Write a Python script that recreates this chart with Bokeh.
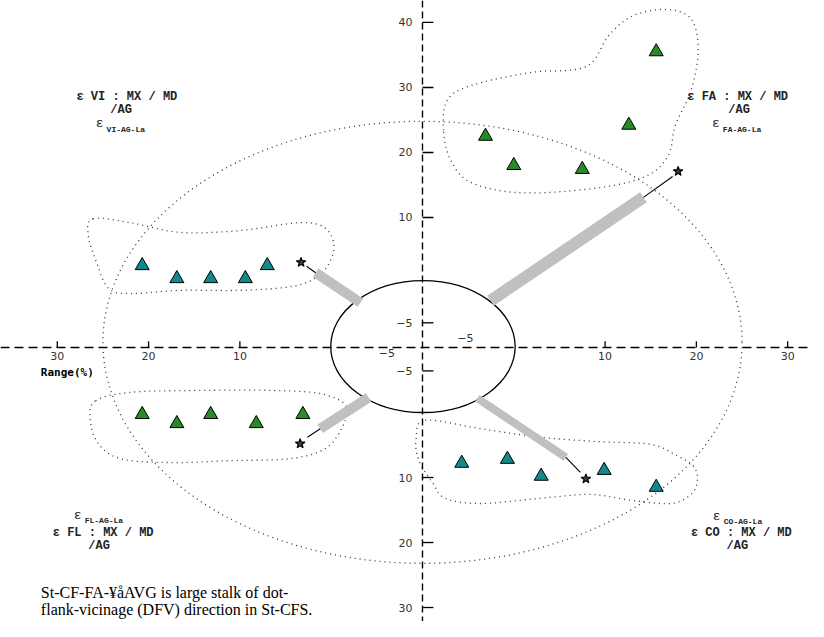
import numpy as np
from bokeh.plotting import figure
from bokeh.models import Span
from bokeh.core.properties import value
from bokeh.embed import file_html
from bokeh.resources import INLINE

# ---------------- data ----------------
# triangle markers in the four quadrants
fa_x = [6.9, 10.0, 17.5, 22.6, 25.6]
fa_y = [32.5, 28.0, 27.4, 34.2, 45.5]
vi_x = [-30.7, -26.9, -23.2, -19.4, -17.0]
vi_y = [12.6, 10.6, 10.6, 10.6, 12.6]
fl_x = [-30.7, -26.9, -23.2, -18.2, -13.1]
fl_y = [-10.3, -11.7, -10.3, -11.7, -10.3]
co_x = [4.3, 9.3, 13.0, 19.9, 25.6]
co_y = [-17.8, -17.2, -19.8, -18.9, -21.5]

# stalks (grey bars), whiskers and stars: FA, VI, FL, CO
stalk_x0 = [7.45, -6.8, -5.9, 6.0]
stalk_y0 = [7.2, 6.9, -7.7, -7.8]
stalk_x1 = [24.2, -11.7, -11.2, 15.7]
stalk_y1 = [23.1, 11.5, -12.5, -16.9]
whisk_x = [27.4, -12.7, -12.6, 17.3]
whisk_y = [26.3, 12.5, -13.8, -19.2]
star_x = [28.0, -13.3, -13.4, 17.9]
star_y = [27.1, 13.1, -14.8, -20.2]

# outline control points of the dotted groups
fa_blob_x = [2.3, 2.7, 5.3, 11.8, 17.9, 20.4, 23.0, 26.6, 29.4, 30.2, 29.4, 27.7, 26.9, 24.4, 18.9, 10.7, 5.3, 3.1]
fa_blob_y = [33.4, 38.0, 40.3, 42.3, 43.2, 48.0, 51.0, 52.0, 50.6, 45.7, 39.5, 34.2, 29.5, 26.3, 24.5, 23.8, 25.4, 28.8]
vi_blob_x = [-36.1, -32.0, -26.5, -19.9, -13.4, -10.6, -9.7, -11.0, -13.9, -19.9, -26.5, -32.0, -34.4, -35.7, -36.6]
vi_blob_y = [19.8, 19.2, 17.7, 18.0, 19.2, 18.3, 15.2, 11.5, 9.5, 8.8, 8.8, 8.3, 9.1, 13.1, 17.2]
fl_blob_x = [-35.8, -32.0, -24.3, -16.6, -11.2, -8.4, -8.7, -10.6, -14.5, -21.0, -27.6, -33.1, -35.6, -36.4]
fl_blob_y = [-8.2, -6.9, -6.6, -6.6, -7.1, -8.9, -12.0, -15.5, -17.1, -17.4, -17.7, -17.1, -14.6, -10.9]
co_blob_x = [0.3, 6.4, 12.9, 19.5, 25.0, 27.8, 29.7, 30.1, 29.4, 27.2, 22.8, 18.4, 12.9, 6.4, 2.5, 1.1, -0.4, -0.7]
co_blob_y = [-11.2, -12.5, -13.8, -14.5, -14.9, -16.6, -18.3, -20.5, -22.6, -24.0, -23.5, -22.6, -23.2, -24.0, -23.2, -20.8, -17.4, -14.0]

# axes ticks (positions are distances from centre, labels from circle edge)
h_tick_pos = [-40, -30, -20, 20, 30, 40]
h_tick_lab = ["30", "20", "10", "10", "20", "30"]
v_tick_pos = [50, 40, 30, 20, 3.8, -3.6, -20, -30, -40]
v_tick_lab = ["40", "30", "20", "10", "−5", "−5", "10", "20", "30"]
inner_lab_x = [-3.9, 4.7]
inner_lab_y = [-0.9, 1.5]
inner_lab = ["−5", "−5"]

# annotations
ann_text = ["ε VI : MX / MD", "/AG", "ε FA : MX / MD", "/AG",
            "ε FL : MX / MD", "/AG", "ε CO : MX / MD", "/AG"]
ann_x = [-37.9, -34.2, 29.0, 33.5, -40.5, -36.6, 29.4, 33.3]
ann_y = [38.5, 36.6, 38.5, 36.6, -28.6, -30.5, -28.6, -30.5]
eps_x = [-35.8, 31.7, -38.2, 31.8]
eps_y = [34.5, 34.5, -25.8, -26.0]
sub_text = ["VI-AG-La", "FA-AG-La", "FL-AG-La", "CO-AG-La"]
sub_x = [-34.6, 32.9, -37.0, 33.0]
sub_y = [33.5, 33.5, -26.6, -26.8]
caption = ["St-CF-FA-¥åAVG is large stalk of dot-",
           "flank-vicinage (DFV) direction in St-CFS."]
cap_x = [-41.8, -41.8]
cap_y = [-37.7, -40.3]

GREEN = "#2a8a2a"
TEAL = "#138a8a"


def smooth_closed(xs, ys, n=16):
    P = np.column_stack([xs, ys]).astype(float)
    m = len(P)
    t = np.linspace(0, 1, n, endpoint=False)[:, None]
    out = []
    for i in range(m):
        p0, p1, p2, p3 = P[(i - 1) % m], P[i], P[(i + 1) % m], P[(i + 2) % m]
        out.append(0.5 * (2 * p1 + (-p0 + p2) * t + (2 * p0 - 5 * p1 + 4 * p2 - p3) * t ** 2
                          + (-p0 + 3 * p1 - 3 * p2 + p3) * t ** 3))
    out = np.vstack(out + [out[0][:1]])
    return out[:, 0], out[:, 1]


p = figure(width=808, height=621, x_range=(-46.22, 42.28), y_range=(-42.15, 53.38),
           output_backend="svg", toolbar_location=None, min_border=0,
           x_axis_location=None, y_axis_location=None)
p.grid.visible = False
p.outline_line_color = None
p.background_fill_color = "white"

# axis lines
p.add_layout(Span(location=0, dimension="width", line_color="black", line_width=1.4, line_dash="9 5"))
p.add_layout(Span(location=0, dimension="height", line_color="black", line_width=1.4, line_dash="7 4"))

# big dotted range ellipse and inner circle
p.ellipse(x=[0], y=[0.8], width=[70], height=[68], fill_color=None,
          line_color="#333333", line_width=1.3, line_dash="1 4")
p.ellipse(x=[0.05], y=[0.15], width=[20.2], height=[20.3], fill_color=None,
          line_color="black", line_width=1.3)

# dotted group outlines
for bx, by in [(fa_blob_x, fa_blob_y), (vi_blob_x, vi_blob_y),
               (fl_blob_x, fl_blob_y), (co_blob_x, co_blob_y)]:
    sx, sy = smooth_closed(bx, by)
    p.line(sx, sy, line_color="#333333", line_width=1.3, line_dash="1 4")

# stalks
p.segment(x0=stalk_x0, y0=stalk_y0, x1=stalk_x1, y1=stalk_y1,
          line_color="#c0c0c0", line_width=[12, 10, 10, 8], line_cap="butt")
p.segment(x0=stalk_x1, y0=stalk_y1, x1=whisk_x, y1=whisk_y, line_color="black", line_width=1.1)
p.scatter(star_x, star_y, marker="star", size=10, fill_color="#444444",
          line_color="black", line_width=1.2)

# triangles
p.scatter(fa_x, fa_y, marker="triangle", size=14, fill_color=GREEN, line_color="black", line_width=1)
p.scatter(fl_x, fl_y, marker="triangle", size=14, fill_color=GREEN, line_color="black", line_width=1)
p.scatter(vi_x, vi_y, marker="triangle", size=14, fill_color=TEAL, line_color="black", line_width=1)
p.scatter(co_x, co_y, marker="triangle", size=14, fill_color=TEAL, line_color="black", line_width=1)

# tick marks
p.segment(x0=h_tick_pos, y0=[0] * len(h_tick_pos), x1=h_tick_pos, y1=[0.95] * len(h_tick_pos),
          line_color="black", line_width=1.3)
p.segment(x0=[0] * len(v_tick_pos), y0=v_tick_pos, x1=[1.2] * len(v_tick_pos), y1=v_tick_pos,
          line_color="black", line_width=1.3)

tick_font = value("DejaVu Sans")
p.text(x=h_tick_pos, y=[0] * len(h_tick_pos), text=h_tick_lab, text_font=tick_font,
       text_font_size="11px", text_color="#333333", text_align="center",
       text_baseline="top", y_offset=4)
p.text(x=[0] * len(v_tick_pos), y=v_tick_pos, text=v_tick_lab, text_font=tick_font,
       text_font_size="11px", text_color="#333333", text_align="right",
       text_baseline="middle", x_offset=-10)
p.text(x=inner_lab_x, y=inner_lab_y, text=inner_lab, text_font=tick_font,
       text_font_size="11px", text_color="#333333", text_align="center",
       text_baseline="middle")

p.text(x=[-41.8], y=[-3.85], text=["Range(%)"], text_font=value("DejaVu Sans Mono"),
       text_font_size="11px", text_font_style="bold", text_color="black",
       text_align="left", text_baseline="middle")

mono = value("Liberation Mono")
p.text(x=ann_x, y=ann_y, text=ann_text, text_font=mono, text_font_size="12px",
       text_font_style="bold", text_color="#222222", text_align="left", text_baseline="middle")
p.text(x=eps_x, y=eps_y, text=["ε"] * 4, text_font=mono, text_font_size="13px",
       text_color="#222222", text_align="left", text_baseline="middle")
p.text(x=sub_x, y=sub_y, text=sub_text, text_font=mono, text_font_size="8px",
       text_font_style="bold", text_color="#222222", text_align="left", text_baseline="middle")

p.text(x=cap_x, y=cap_y, text=caption, text_font=value("Liberation Serif"), text_font_size="16px",
       text_color="black", text_align="left", text_baseline="alphabetic")

open("out.html", "w").write(file_html(p, INLINE))
